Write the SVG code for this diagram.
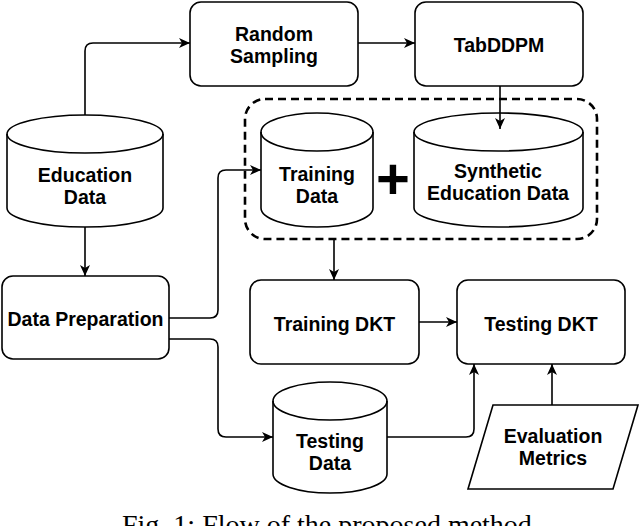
<svg xmlns="http://www.w3.org/2000/svg" width="640" height="526" viewBox="0 0 640 526">
<defs>
<style>
.n{fill:#fff;stroke:#000;stroke-width:1.6}
.c{fill:none;stroke:#000;stroke-width:1.6}
.t{font-family:"Liberation Sans",Arial,sans-serif;font-weight:bold;font-size:19.5px;text-anchor:middle;fill:#000}
</style>
<marker id="a" markerUnits="userSpaceOnUse" markerWidth="12" markerHeight="11" refX="11" refY="5" orient="auto">
<path d="M0,0 L11,5 L0,10 L3,5 Z" fill="#000"/>
</marker>
</defs>
<rect width="640" height="526" fill="#fff"/>
<g id="group-box">
<rect x="245" y="99" width="352" height="140" rx="20" fill="none" stroke="#000" stroke-width="2.6" stroke-dasharray="8 5"/>
</g>
<g id="random-sampling">
<rect class="n" x="190" y="2" width="168" height="84" rx="11"/>
<text class="t" x="274" y="41">Random</text>
<text class="t" x="274" y="63">Sampling</text>
</g>
<g id="tabddpm">
<rect class="n" x="415" y="2" width="168" height="84" rx="11"/>
<text class="t" x="499" y="52">TabDDPM</text>
</g>
<g id="education-data">
<path class="n" d="M7,134 A78,19 0 0 1 163,134 V208 A78,19 0 0 1 7,208 Z"/>
<path class="c" d="M7,134 A78,19 0 0 0 163,134"/>
<text class="t" x="85" y="182">Education</text>
<text class="t" x="85" y="204">Data</text>
</g>
<g id="training-data">
<path class="n" d="M261,132 A56,19 0 0 1 373,132 V208 A56,19 0 0 1 261,208 Z"/>
<path class="c" d="M261,132 A56,19 0 0 0 373,132"/>
<text class="t" x="317" y="181">Training</text>
<text class="t" x="317" y="203">Data</text>
</g>
<g id="plus">
<text x="393" y="199" font-family="Liberation Sans, Arial, sans-serif" font-weight="bold" font-size="58" text-anchor="middle">+</text>
</g>
<g id="synthetic-data">
<path class="n" d="M414,132 A84.5,19 0 0 1 583,132 V208 A84.5,19 0 0 1 414,208 Z"/>
<path class="c" d="M414,132 A84.5,19 0 0 0 583,132"/>
<text class="t" x="498" y="178">Synthetic</text>
<text class="t" x="498" y="200">Education Data</text>
</g>
<g id="data-preparation">
<rect class="n" x="2" y="276" width="167" height="83" rx="11"/>
<text class="t" x="85.5" y="326">Data Preparation</text>
</g>
<g id="training-dkt">
<rect class="n" x="250" y="280" width="169" height="84" rx="11"/>
<text class="t" x="334.5" y="331">Training DKT</text>
</g>
<g id="testing-dkt">
<rect class="n" x="457" y="280" width="168" height="84" rx="11"/>
<text class="t" x="541" y="331">Testing DKT</text>
</g>
<g id="testing-data">
<path class="n" d="M273,401 A57,19 0 0 1 387,401 V474 A57,19 0 0 1 273,474 Z"/>
<path class="c" d="M273,401 A57,19 0 0 0 387,401"/>
<text class="t" x="330" y="448">Testing</text>
<text class="t" x="330" y="470">Data</text>
</g>
<g id="evaluation-metrics">
<path class="n" d="M493,405 H638 L613,489 H468 Z"/>
<text class="t" x="553" y="443">Evaluation</text>
<text class="t" x="553" y="465">Metrics</text>
</g>
<g id="connectors">
<path class="c" d="M85,115 V51 Q85,43 93,43 H190" marker-end="url(#a)"/>
<path class="c" d="M358,43 H415" marker-end="url(#a)"/>
<path class="c" d="M500,86 V129" marker-end="url(#a)"/>
<path class="c" d="M85,227 V276" marker-end="url(#a)"/>
<path class="c" d="M169,318 H210 Q218,318 218,310 V178 Q218,170 226,170 H261" marker-end="url(#a)"/>
<path class="c" d="M169,339 H210 Q218,339 218,347 V429 Q218,437 226,437 H273" marker-end="url(#a)"/>
<path class="c" d="M334,239 V280" marker-end="url(#a)"/>
<path class="c" d="M419,322 H457" marker-end="url(#a)"/>
<path class="c" d="M387,437 H466 Q474,437 474,429 V364" marker-end="url(#a)"/>
<path class="c" d="M552,405 V364" marker-end="url(#a)"/>
</g>
<text x="122" y="534" font-family="Liberation Serif, Times New Roman, serif" font-size="28" fill="#000">Fig. 1: Flow of the proposed method.</text>
</svg>
